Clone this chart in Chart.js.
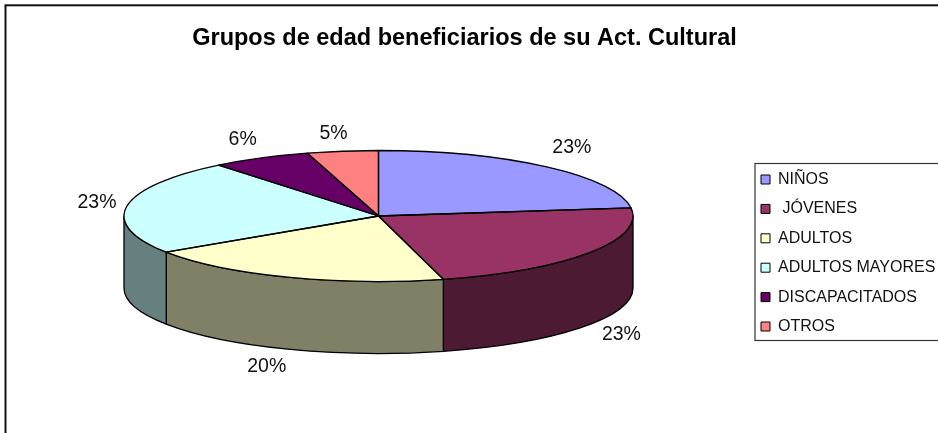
<!DOCTYPE html>
<html>
<head>
<meta charset="utf-8">
<style>html,body{margin:0;padding:0;background:#fff}canvas{display:block}</style>
<script src="https://cdn.jsdelivr.net/npm/chart.js@4/dist/chart.umd.min.js"></script>
</head>
<body>
<canvas id="c" width="938" height="433"></canvas>
<script>
const chartTitle = 'Grupos de edad beneficiarios de su Act. Cultural';
const categories = ['NIÑOS', ' JÓVENES', 'ADULTOS', 'ADULTOS MAYORES', 'DISCAPACITADOS', 'OTROS'];
const shares = [23, 22.9, 19.8, 23.49, 6.3, 4.51];
const topColors = ['#9999FF', '#993366', '#FFFFCC', '#CCFFFF', '#660066', '#FF8080'];
const wallColors = ['#4D4D80', '#4D1A33', '#808066', '#668080', '#330033', '#804040'];
const labelOffsets = [[25,-19],[32,10],[-21,17],[-30,-3],[-18,-18],[-9,-18]];

const FONT = '"Liberation Sans", Arial, sans-serif';
const PIE = {cx: 378.5, cy: 216, rx: 254.5, ry: 65.5, depth: 72};
const INK = '#000';

function slices(chart){ return chart.getDatasetMeta(0).data; }

const pie3d = {
  id: 'pie3d',
  beforeDraw(chart){
    const c = chart.ctx;
    c.save();
    c.strokeStyle = '#111';
    c.lineWidth = 2;
    c.strokeRect(5.5, 5.3, 1000, 1000);
    c.strokeStyle = '#333';
    c.lineWidth = 1.2;
    c.strokeRect(755, 163.5, 500, 177);
    c.restore();
  },
  afterLayout(chart){
    const l = chart.legend, pad = l.options.labels.padding;
    l.left = 761 - pad; l.right = 1100;
    l.top = 171.5 - pad; l.bottom = 420;
    l.width = l.right - l.left; l.height = l.bottom - l.top;
  },
  beforeDatasetsDraw(chart){
    const c = chart.ctx, arcs = slices(chart);
    c.save();
    c.lineJoin = 'round';
    arcs.forEach((a, i) => {
      const s = Math.max(a.startAngle, 0), e = Math.min(a.endAngle, Math.PI);
      if (e <= s) return;
      c.beginPath();
      c.ellipse(PIE.cx, PIE.cy, PIE.rx, PIE.ry, 0, s, e);
      c.ellipse(PIE.cx, PIE.cy + PIE.depth, PIE.rx, PIE.ry, 0, e, s, true);
      c.closePath();
      c.fillStyle = wallColors[i];
      c.fill();
      c.strokeStyle = INK;
      c.lineWidth = 1.3;
      c.stroke();
    });
    c.restore();
    const a0 = arcs[0], k = a0.outerRadius;
    c.save();
    c.translate(PIE.cx, PIE.cy);
    c.scale(PIE.rx / k, PIE.ry / k);
    c.translate(-a0.x, -a0.y);
  },
  afterDatasetsDraw(chart){
    const c = chart.ctx, arcs = slices(chart);
    c.restore();
    c.save();
    c.strokeStyle = INK;
    c.lineWidth = 1.3;
    c.lineJoin = 'round';
    arcs.forEach(a => {
      c.beginPath();
      c.moveTo(PIE.cx, PIE.cy);
      c.ellipse(PIE.cx, PIE.cy, PIE.rx, PIE.ry, 0, a.startAngle, a.endAngle);
      c.closePath();
      c.stroke();
    });
    c.restore();
  },
  afterDraw(chart){
    const c = chart.ctx, arcs = slices(chart);
    const total = shares.reduce((p, v) => p + v, 0);
    c.save();
    c.font = '19.5px ' + FONT;
    c.fillStyle = '#111';
    c.textAlign = 'center';
    c.textBaseline = 'middle';
    arcs.forEach((a, i) => {
      const m = (a.startAngle + a.endAngle) / 2;
      const front = Math.sin(m) > 0;
      const x = PIE.cx + PIE.rx * Math.cos(m) + labelOffsets[i][0];
      const y = PIE.cy + PIE.ry * Math.sin(m) + (front ? PIE.depth : 0) + labelOffsets[i][1];
      c.fillText(Math.round(shares[i] / total * 100) + '%', x, y);
    });
    c.restore();
  }
};

new Chart(document.getElementById('c'), {
  type: 'pie',
  data: {
    labels: categories,
    datasets: [{data: shares, backgroundColor: topColors, borderWidth: 0, clip: false}]
  },
  options: {
    responsive: false,
    animation: false,
    events: [],
    layout: {padding: {right: 9}},
    plugins: {
      tooltip: {enabled: false},
      title: {
        display: true,
        text: chartTitle,
        color: '#000',
        font: {family: FONT, size: 23.5, weight: 'bold'},
        padding: {top: 24, bottom: 10}
      },
      legend: {
        position: 'right',
        align: 'start',
        labels: {
          boxWidth: 9,
          boxHeight: 9,
          padding: 13.4,
          color: '#111',
          font: {family: FONT, size: 16},
          generateLabels: chart => chart.data.labels.map((t, i) => ({
            text: t,
            fillStyle: topColors[i],
            strokeStyle: '#000',
            lineWidth: 1,
            fontColor: '#111',
            hidden: false,
            index: i
          }))
        }
      }
    }
  },
  plugins: [pie3d]
});
</script>
</body>
</html>
